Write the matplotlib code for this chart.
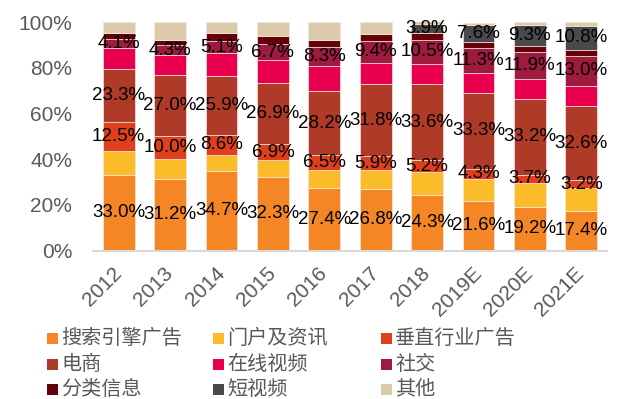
import matplotlib
matplotlib.use("Agg")
import matplotlib.pyplot as plt
from matplotlib.patches import Rectangle
import numpy as np

plt.rcParams['font.family'] = ['Liberation Sans', 'Noto Sans CJK SC', 'DejaVu Sans']

years = ["2012", "2013", "2014", "2015", "2016", "2017", "2018", "2019E", "2020E", "2021E"]
series_names = ["搜索引擎广告", "门户及资讯", "垂直行业广告", "电商", "在线视频", "社交", "分类信息", "短视频", "其他"]

search   = [33.0, 31.2, 34.7, 32.3, 27.4, 26.8, 24.3, 21.6, 19.2, 17.4]
portal   = [10.7, 8.8, 7.3, 7.2, 7.7, 8.5, 9.9, 9.8, 10.3, 10.1]
vertical = [12.5, 10.0, 8.6, 6.9, 6.5, 5.9, 5.2, 4.3, 3.7, 3.2]
ecommerce = [23.3, 27.0, 25.9, 26.9, 28.2, 31.8, 33.6, 33.3, 33.2, 32.6]
video    = [9.1, 8.5, 10.0, 10.2, 11.0, 9.2, 8.8, 8.5, 8.7, 8.8]
social   = [4.1, 4.3, 5.1, 6.7, 8.3, 9.4, 10.5, 11.3, 11.9, 13.0]
classified = [2.5, 2.3, 3.4, 3.5, 3.1, 3.2, 3.1, 2.5, 2.4, 2.5]
short_video = [0.0, 0.0, 0.0, 0.0, 0.0, 0.0, 3.9, 7.6, 9.3, 10.8]
other    = [5.0, 8.0, 5.2, 6.1, 7.6, 5.2, 1.0, 0.5, 1.3, 1.7]

series = [search, portal, vertical, ecommerce, video, social, classified, short_video, other]
colors = ["#F58626", "#FBBC2A", "#DF401B", "#B03A28", "#E8004F", "#9E1A3E", "#660009", "#4A4A4C", "#DCCBAA"]
labeled = [True, False, True, True, False, True, False, True, False]

fig = plt.figure(figsize=(6.28, 3.99), dpi=100)
ax = fig.add_axes([93/628, 1 - 250.5/399, (607 - 93)/628, (250.5 - 22)/399])

x = np.arange(len(years))
bottom = np.zeros(len(years))
for vals, col, lab in zip(series, colors, labeled):
    v = np.array(vals)
    ax.bar(x, v, bottom=bottom, width=0.62, color=col, edgecolor="#F7E6E0", linewidth=0.5)
    if lab:
        for xi, b, val in zip(x, bottom, v):
            if val > 0:
                ax.text(xi, b + val / 2, f"{val:.1f}%", ha="center", va="center",
                        fontsize=13.5, color="black")
    bottom += v

ax.set_ylim(0, 100)
ax.set_xlim(-0.5, len(years) - 0.5)
ax.set_yticks([0, 20, 40, 60, 80, 100])
ax.set_yticklabels([f"{t}%" for t in [0, 20, 40, 60, 80, 100]], fontsize=15, color="#595959")
ax.set_xticks(x)
ax.set_xticklabels(years, rotation=45, ha="right", va="center", rotation_mode="anchor",
                   fontsize=15, color="#595959")
ax.tick_params(axis="both", length=0)
ax.tick_params(axis="y", pad=15)
ax.tick_params(axis="x", pad=14)
for s in ["top", "right", "left"]:
    ax.spines[s].set_visible(False)
ax.spines["bottom"].set_color("#D9D9D9")
ax.spines["bottom"].set_linewidth(1.5)

# legend laid out in a 3x3 grid
col_x = [47, 213, 381]
row_y = [338, 364, 389]
for i, (name, col) in enumerate(zip(series_names, colors)):
    r, c = divmod(i, 3)
    px, py = col_x[c], row_y[r]
    fig.add_artist(Rectangle((px / 628, 1 - (py + 5.5) / 399), 10.5 / 628, 11 / 399,
                             transform=fig.transFigure, facecolor=col, edgecolor="none"))
    fig.text((px + 14) / 628, 1 - py / 399, name, fontsize=14.5, color="#595959",
             ha="left", va="center", family=["Noto Sans CJK SC", "DejaVu Sans"])

fig.savefig("out.png", dpi=100)
